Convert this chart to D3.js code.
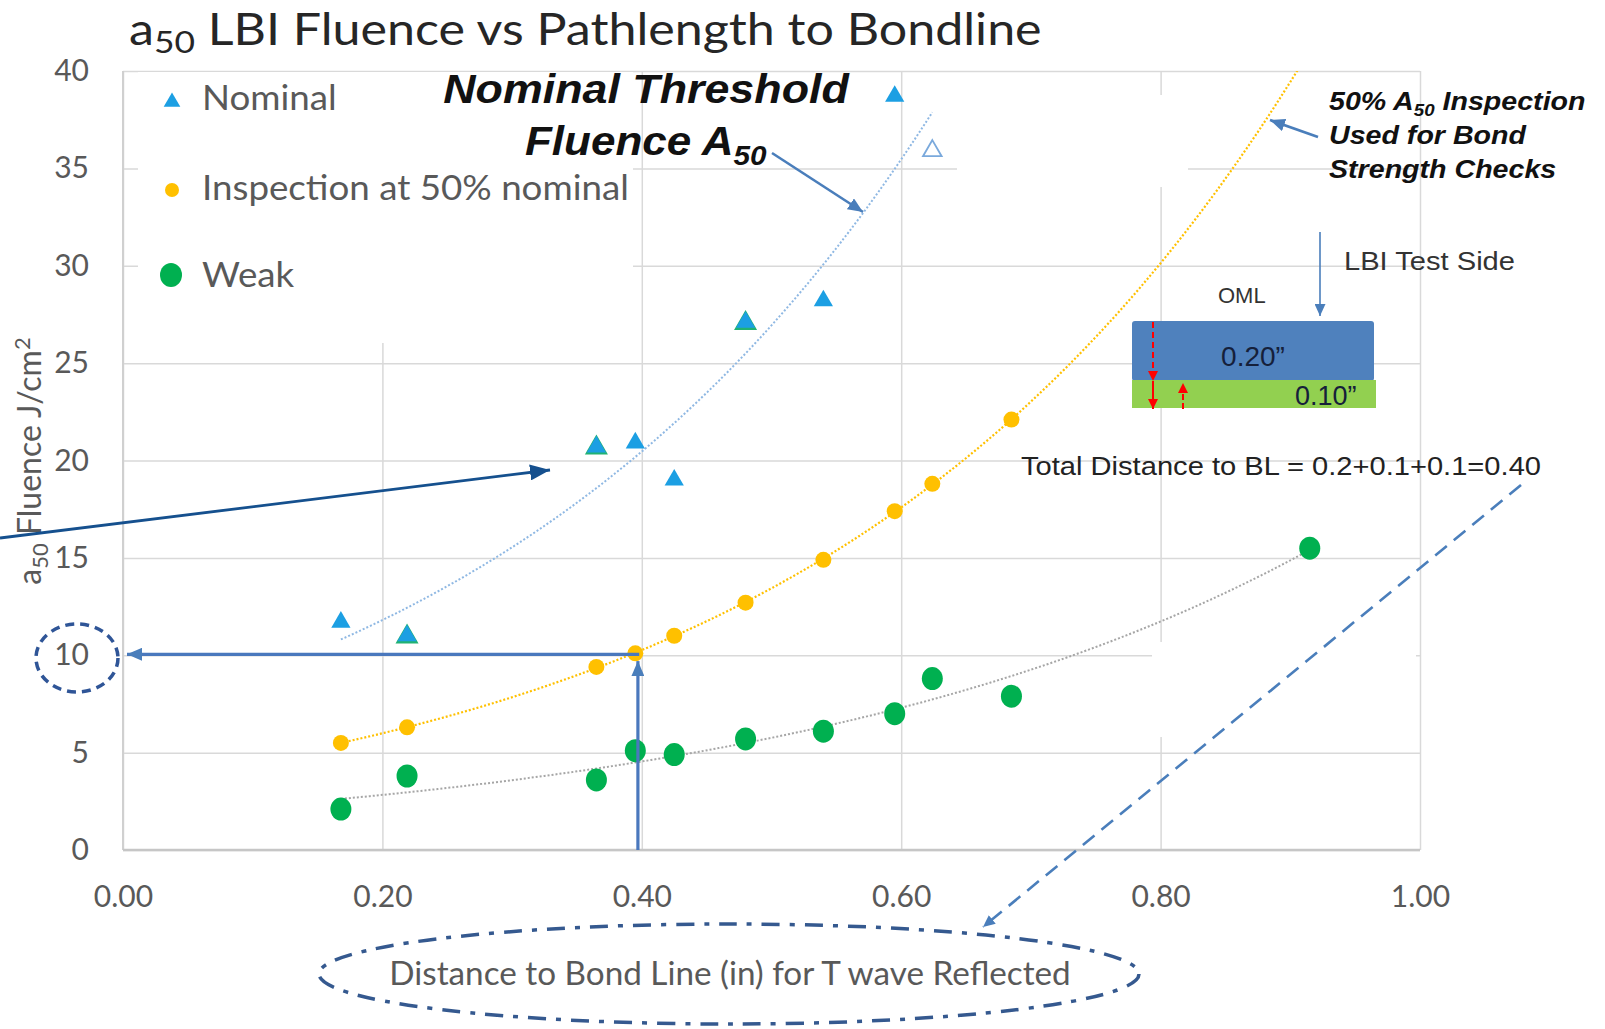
<!doctype html>
<html>
<head>
<meta charset="utf-8">
<title>a50 LBI Fluence vs Pathlength to Bondline</title>
<script src="https://cdn.jsdelivr.net/npm/d3@7/dist/d3.min.js"></script>
<style>
  body { margin: 0; background: #fff; }
  svg { display: block; }
</style>
</head>
<body>
<script>
// series (x = distance to bond line in inches, y = a50 fluence J/cm2)
const nominalX = [0.168, 0.219, 0.365, 0.395, 0.425, 0.480, 0.540, 0.595];
const nominalY = [11.7, 11.0, 20.7, 20.9, 19.0, 27.1, 28.2, 38.7];
// open (unfilled) nominal marker, still part of the nominal trend
const nominalOpenX = [0.624];
const nominalOpenY = [35.9];
// green triangles sitting under some of the nominal ones
const nominalUnderX = [0.219, 0.365, 0.480];
const nominalUnderY = [11.0, 20.7, 27.1];

const inspectX = [0.168, 0.219, 0.365, 0.395, 0.425, 0.480, 0.540, 0.595, 0.624, 0.685];
const inspectY = [5.5, 6.3, 9.4, 10.1, 11.0, 12.7, 14.9, 17.4, 18.8, 22.1];

const weakX = [0.168, 0.219, 0.365, 0.395, 0.425, 0.480, 0.540, 0.595, 0.624, 0.685, 0.915];
const weakY = [2.1, 3.8, 3.6, 5.1, 4.9, 5.7, 6.1, 7.0, 8.8, 7.9, 15.5];

const xTicks = [0, 0.2, 0.4, 0.6, 0.8, 1.0];
const yTicks = [0, 5, 10, 15, 20, 25, 30, 35, 40];

const legendNames = ['Nominal', 'Inspection at 50% nominal', 'Weak'];

const W = 1605, H = 1029;
const margin = {top: 71, right: 185, bottom: 179, left: 123};
const plotW = W - margin.left - margin.right;
const plotH = H - margin.top - margin.bottom;

const calibri = 'Lato, "Open Sans", sans-serif';
const arial = '"Liberation Sans", Arial, sans-serif';
const grey = '#595959';
const arrowBlue = '#4a7ebb';

const svg = d3.select('body').append('svg')
    .attr('width', W)
    .attr('height', H);

const defs = svg.append('defs');
defs.append('clipPath').attr('id', 'plotClip')
  .append('rect')
    .attr('x', margin.left).attr('y', margin.top)
    .attr('width', plotW).attr('height', plotH);

function arrowHead(id, color, len, wid) {
  defs.append('marker')
      .attr('id', id)
      .attr('markerUnits', 'userSpaceOnUse')
      .attr('viewBox', `0 0 ${len} ${wid}`)
      .attr('refX', len).attr('refY', wid / 2)
      .attr('markerWidth', len).attr('markerHeight', wid)
      .attr('orient', 'auto')
    .append('path')
      .attr('d', `M0,0L${len},${wid / 2}L0,${wid}Z`)
      .attr('fill', color);
}
arrowHead('headNavy', '#15508e', 20, 16);
arrowHead('headBlue', arrowBlue, 15, 13);
arrowHead('headSmall', arrowBlue, 12, 11);
arrowHead('headRed', '#ff0000', 10, 10);

// text that is a little wider than the font (the original is stretched sideways)
function wideText(px, py, sx) {
  return svg.append('g')
      .attr('transform', `translate(${px},${py}) scale(${sx},1)`)
    .append('text');
}

const x = d3.scaleLinear().domain([0, 1]).range([margin.left, margin.left + plotW]);
const y = d3.scaleLinear().domain([0, 40]).range([margin.top + plotH, margin.top]);

// title
const title = wideText(129, 45, 1.14)
    .attr('font-family', calibri).attr('font-size', 44)
    .attr('fill', '#262626');
title.append('tspan').text('a');
title.append('tspan').attr('font-size', 31).attr('dy', 8).text('50');
title.append('tspan').attr('dy', -8).text(' LBI Fluence vs Pathlength to Bondline');

// y axis + horizontal grid
const gy = svg.append('g')
    .attr('transform', `translate(${margin.left},0)`)
    .call(d3.axisLeft(y).tickValues(yTicks).tickSize(-plotW).tickPadding(34));
gy.select('.domain').remove();
gy.selectAll('.tick line').attr('stroke', '#d9d9d9').attr('stroke-width', 1.5);
gy.selectAll('.tick text')
    .attr('font-family', calibri).attr('font-size', 30).attr('fill', grey);

// x axis + vertical grid
const gx = svg.append('g')
    .attr('transform', `translate(0,${margin.top + plotH})`)
    .call(d3.axisBottom(x).tickValues(xTicks).tickFormat(d3.format('.2f')).tickSize(-plotH).tickPadding(36));
gx.select('.domain').remove();
gx.selectAll('.tick line').attr('stroke', '#d9d9d9').attr('stroke-width', 1.5);
gx.selectAll('.tick text')
    .attr('font-family', calibri).attr('font-size', 30).attr('fill', grey);

// left and bottom axis lines
svg.append('line')
    .attr('x1', x(0)).attr('x2', x(0)).attr('y1', y(0)).attr('y2', y(40))
    .attr('stroke', '#d0d0d0').attr('stroke-width', 2);
svg.append('line')
    .attr('x1', x(0)).attr('x2', x(1)).attr('y1', y(0)).attr('y2', y(0))
    .attr('stroke', '#c6c6c6').attr('stroke-width', 2.5);

// white boxes pasted over the grid in the original
[[138, 72, 495, 271], [957, 95, 231, 92], [1152, 642, 264, 95]].forEach(b => {
  svg.append('rect')
      .attr('x', b[0]).attr('y', b[1]).attr('width', b[2]).attr('height', b[3])
      .attr('fill', '#fff');
});

// exponential trendlines (least squares on ln y, like Excel)
function expFit(xs, ys) {
  const ly = ys.map(Math.log);
  const mx = d3.mean(xs), my = d3.mean(ly);
  const b = d3.sum(xs, (v, i) => (v - mx) * (ly[i] - my)) / d3.sum(xs, v => (v - mx) * (v - mx));
  const a = Math.exp(my - b * mx);
  return v => a * Math.exp(b * v);
}
function trend(xs, ys, x0, x1, color, width, dash) {
  const f = expFit(xs, ys);
  const pts = d3.range(0, 101).map(i => x0 + (x1 - x0) * i / 100);
  svg.append('path')
      .datum(pts)
      .attr('clip-path', 'url(#plotClip)')
      .attr('fill', 'none')
      .attr('stroke', color)
      .attr('stroke-width', width)
      .attr('stroke-dasharray', dash)
      .attr('d', d3.line().x(v => x(v)).y(v => y(f(v))));
}
const nomAllX = nominalX.concat(nominalOpenX);
const nomAllY = nominalY.concat(nominalOpenY);
trend(nomAllX, nomAllY, d3.min(nomAllX), d3.max(nomAllX), '#8fb8e3', 2, '2,2');
trend(inspectX, inspectY, d3.min(inspectX), 1.0, '#ffc000', 2.2, '2,2');
trend(weakX, weakY, d3.min(weakX), d3.max(weakX), '#a6a6a6', 2, '2,2');

// markers
const tri = d3.symbol().type(d3.symbolTriangle);
svg.append('g').selectAll('path')
  .data(nominalUnderX.map((v, i) => [v, nominalUnderY[i]]))
  .join('path')
    .attr('transform', d => `translate(${x(d[0])},${y(d[1]) + 1})`)
    .attr('d', tri.size(230)())
    .attr('fill', '#20b273');
svg.append('g').selectAll('path')
  .data(nominalX.map((v, i) => [v, nominalY[i]]))
  .join('path')
    .attr('transform', d => `translate(${x(d[0])},${y(d[1])})`)
    .attr('d', tri.size(160)())
    .attr('fill', '#1c9fe3');
svg.append('g').selectAll('path')
  .data(nominalOpenX.map((v, i) => [v, nominalOpenY[i]]))
  .join('path')
    .attr('transform', d => `translate(${x(d[0])},${y(d[1])})`)
    .attr('d', tri.size(150)())
    .attr('fill', '#fff')
    .attr('stroke', '#7aa9dc')
    .attr('stroke-width', 1.8);

svg.append('g').selectAll('circle')
  .data(inspectX.map((v, i) => [v, inspectY[i]]))
  .join('circle')
    .attr('cx', d => x(d[0])).attr('cy', d => y(d[1]))
    .attr('r', 8)
    .attr('fill', '#ffc000');

svg.append('g').selectAll('ellipse')
  .data(weakX.map((v, i) => [v, weakY[i]]))
  .join('ellipse')
    .attr('cx', d => x(d[0])).attr('cy', d => y(d[1]))
    .attr('rx', 10.5).attr('ry', 11.5)
    .attr('fill', '#00b050');

// legend
const legend = svg.append('g');
legend.append('path').attr('transform', 'translate(172,102)').attr('d', tri.size(120)()).attr('fill', '#1c9fe3');
legend.append('circle').attr('cx', 172).attr('cy', 190).attr('r', 7).attr('fill', '#ffc000');
legend.append('ellipse').attr('cx', 171).attr('cy', 275).attr('rx', 11).attr('ry', 12).attr('fill', '#00b050');
[110, 200, 287].forEach((by, i) => {
  wideText(202, by, 1.08)
      .attr('font-family', calibri).attr('font-size', 34).attr('fill', grey)
      .text(legendNames[i]);
});

// axis titles
const yTitle = svg.append('text')
    .attr('transform', 'translate(41,461) rotate(-90)')
    .attr('text-anchor', 'middle')
    .attr('font-family', calibri).attr('font-size', 32).attr('fill', grey);
yTitle.append('tspan').text('a');
yTitle.append('tspan').attr('font-size', 22).attr('dy', 7).text('50');
yTitle.append('tspan').attr('dy', -7).text(' Fluence J/cm');
yTitle.append('tspan').attr('font-size', 22).attr('dy', -11).text('2');

wideText(730, 985, 1.04)
    .attr('text-anchor', 'middle')
    .attr('font-family', calibri).attr('font-size', 32).attr('fill', grey)
    .text('Distance to Bond Line (in) for T wave Reflected');

// dashed circles
svg.append('ellipse')
    .attr('cx', 77).attr('cy', 658).attr('rx', 41).attr('ry', 34)
    .attr('fill', 'none').attr('stroke', '#2f5597').attr('stroke-width', 3.5)
    .attr('stroke-dasharray', '9,6');
svg.append('ellipse')
    .attr('cx', 729).attr('cy', 974).attr('rx', 410).attr('ry', 50)
    .attr('fill', 'none').attr('stroke', '#35598f').attr('stroke-width', 3.5)
    .attr('stroke-dasharray', '18,10,5,10');

// arrows
function arrow(x1, y1, x2, y2, color, width, head, dash) {
  svg.append('line')
      .attr('x1', x1).attr('y1', y1).attr('x2', x2).attr('y2', y2)
      .attr('stroke', color).attr('stroke-width', width)
      .attr('stroke-dasharray', dash || null)
      .attr('marker-end', `url(#${head})`);
}
arrow(0, 538, 550, 470, '#15508e', 2.8, 'headNavy');
arrow(x(0.398), y(10.05), 127, y(10.05), '#4a78bd', 3.2, 'headBlue');
arrow(x(0.397), y(0), x(0.397), y(9.7), '#4a78bd', 3.2, 'headBlue');
arrow(772, 153, 863, 212, arrowBlue, 2.6, 'headBlue');
arrow(1318, 137, 1270, 120, arrowBlue, 2.6, 'headBlue');
arrow(1320, 232, 1320, 316, arrowBlue, 1.6, 'headSmall');
arrow(1521, 485, 983, 927, arrowBlue, 2.6, 'headSmall', '15,9');

// annotations
const bi = t => t.attr('font-family', arial).attr('font-weight', 'bold').attr('font-style', 'italic').attr('fill', '#111');
bi(wideText(646, 103, 1.12)).attr('font-size', 40).attr('text-anchor', 'middle').text('Nominal Threshold');
const fl = bi(wideText(525, 155, 1.1)).attr('font-size', 40);
fl.append('tspan').text('Fluence A');
fl.append('tspan').attr('font-size', 27).attr('dy', 10).text('50');

const ins1 = bi(wideText(1329, 110, 1.1)).attr('font-size', 26);
ins1.append('tspan').text('50% A');
ins1.append('tspan').attr('font-size', 17).attr('dy', 6).text('50');
ins1.append('tspan').attr('dy', -6).text(' Inspection');
bi(wideText(1329, 144, 1.1)).attr('font-size', 26).text('Used for Bond');
bi(wideText(1329, 178, 1.1)).attr('font-size', 26).text('Strength Checks');

wideText(1344, 270, 1.12)
    .attr('font-family', arial).attr('font-size', 26).attr('fill', '#333')
    .text('LBI Test Side');
svg.append('text')
    .attr('x', 1218).attr('y', 303)
    .attr('font-family', arial).attr('font-size', 22).attr('fill', '#333')
    .text('OML');

// layer sketch
svg.append('rect')
    .attr('x', 1132).attr('y', 321).attr('width', 242).attr('height', 60).attr('rx', 3)
    .attr('fill', '#4f81bd');
svg.append('rect')
    .attr('x', 1132).attr('y', 380).attr('width', 244).attr('height', 28)
    .attr('fill', '#92d050');
svg.append('text')
    .attr('x', 1253).attr('y', 366).attr('text-anchor', 'middle')
    .attr('font-family', arial).attr('font-size', 28).attr('fill', '#15203a')
    .text('0.20\u201D');
svg.append('text')
    .attr('x', 1295).attr('y', 405)
    .attr('font-family', arial).attr('font-size', 27).attr('fill', '#15203a')
    .text('0.10\u201D');
arrow(1153, 322, 1153, 381, '#ff0000', 2, 'headRed', '6,4');
arrow(1153, 381, 1153, 409, '#ff0000', 2, 'headRed');
arrow(1183, 409, 1183, 383, '#ff0000', 2, 'headRed', '6,3');

wideText(1021, 475, 1.12)
    .attr('font-family', arial).attr('font-size', 26).attr('fill', '#222')
    .text('Total Distance to BL = 0.2+0.1+0.1=0.40');
</script>
</body>
</html>
